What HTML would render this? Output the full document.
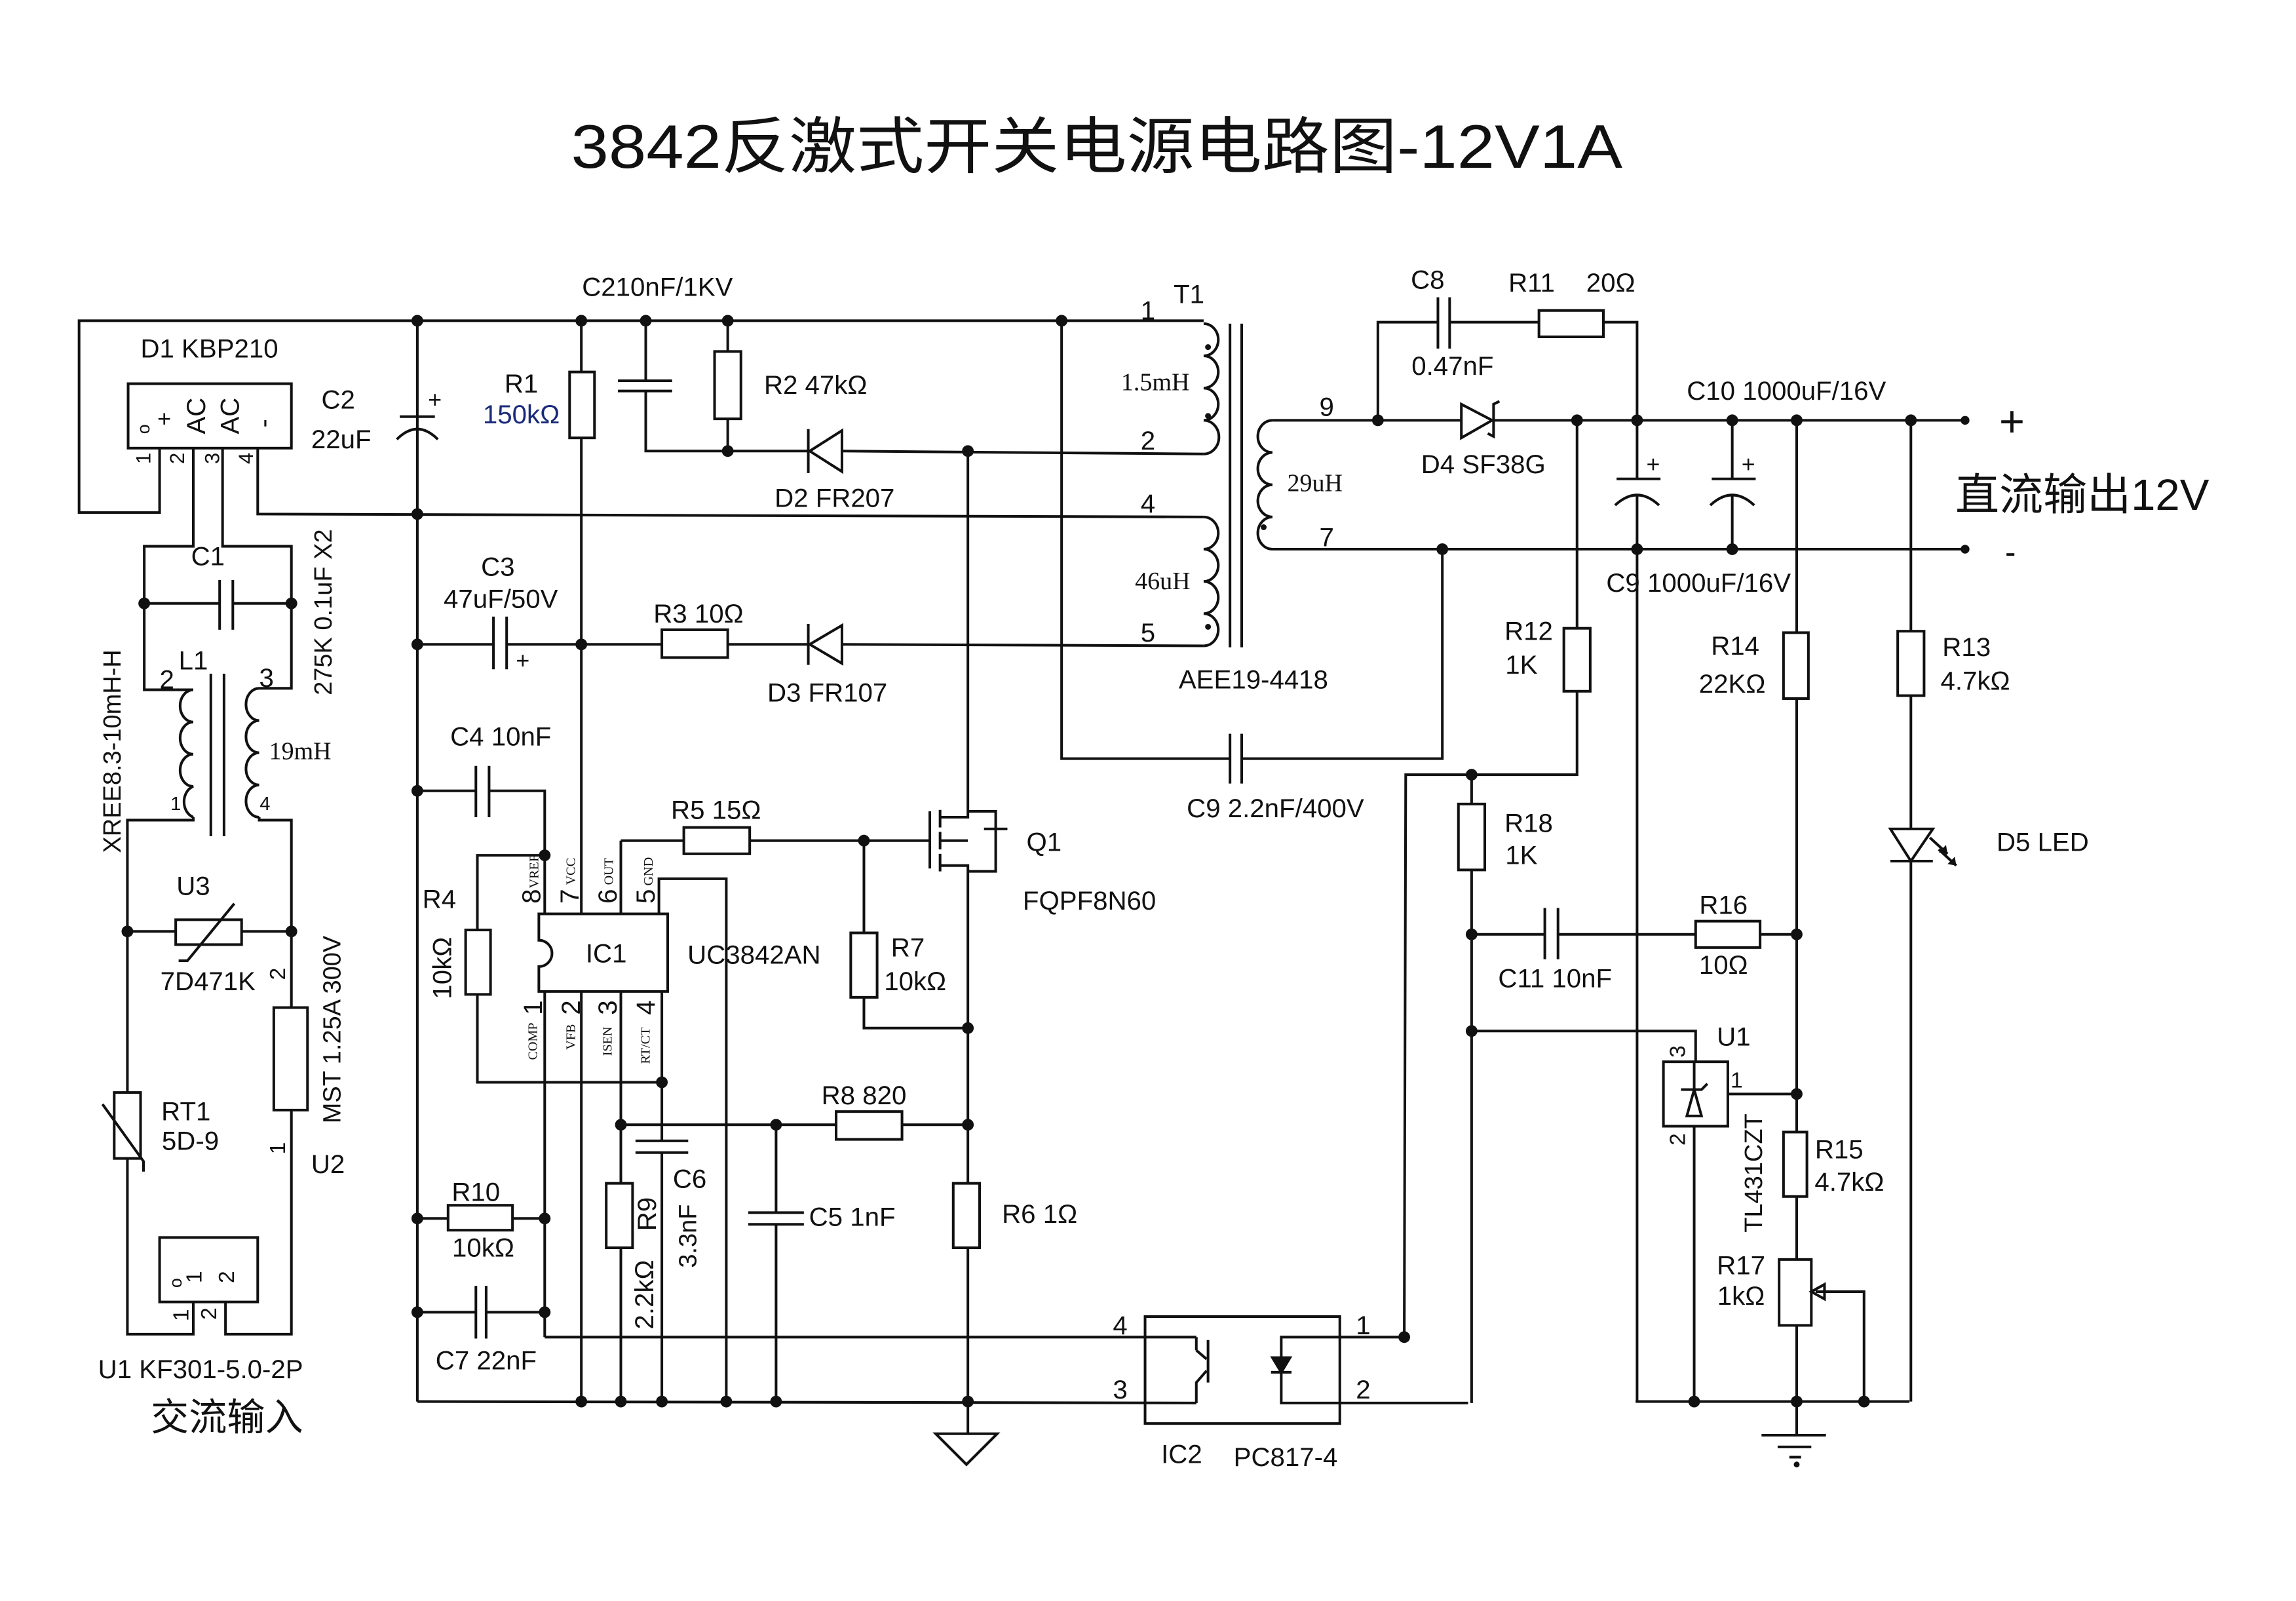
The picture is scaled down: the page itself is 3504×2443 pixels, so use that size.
<!DOCTYPE html>
<html><head><meta charset="utf-8"><style>
html,body{margin:0;padding:0;background:#fff}
svg{display:block}
text{font-family:"Liberation Sans Narrow","Liberation Sans","Noto Sans CJK SC",sans-serif;font-size:18px;fill:#111;text-anchor:middle;dominant-baseline:central}
.s{font-family:"Liberation Serif",serif;font-size:17px}
.t{font-family:"Liberation Serif",serif;font-size:9px}
.w{font-family:"Liberation Sans",sans-serif}
</style></head><body>
<svg width="3504" height="2443" viewBox="0 0 1568 1093.2" preserveAspectRatio="none" xmlns="http://www.w3.org/2000/svg">
<rect width="1568" height="1094" fill="#fff"/>
<text x="749" y="100" style="font-size:42px;font-family:'Liberation Sans','Noto Sans CJK SC',sans-serif" textLength="718" lengthAdjust="spacingAndGlyphs">3842反激式开关电源电路图-12V1A</text>
<g stroke="#111" stroke-width="1.8" fill="none">
<!-- top bus & bridge -->
<polyline points="822,219 54,219 54,350 109,350 109,306"/>
<rect x="87.5" y="262" width="111.5" height="44"/>
<polyline points="176,306 176,351 822,353"/>
<polyline points="132,306 132,373 98.5,373 98.5,471 120,471"/>
<polyline points="152,306 152,373 199,373 199,470 177,470"/>
<line x1="98.5" y1="412" x2="150" y2="412"/><line x1="159" y1="412" x2="199" y2="412"/>
<line x1="150" y1="396" x2="150" y2="430"/><line x1="159" y1="396" x2="159" y2="430"/>
<!-- L1 -->
<path d="M132,471 a9,11 0 0 0 0,22 a9,11 0 0 0 0,22 a9,11 0 0 0 0,22 a9,11 0 0 0 0,21"/>
<line x1="120" y1="471" x2="132" y2="471"/>
<path d="M177,470 a9,11 0 0 0 0,22 a9,11 0 0 0 0,22 a9,11 0 0 0 0,22 a9,11 0 0 0 0,22"/>
<line x1="144" y1="460" x2="144" y2="571"/><line x1="153" y1="460" x2="153" y2="571"/>
<polyline points="132,558 132,560 87,560 87,746"/>
<polyline points="177,558 177,560 199,560 199,688"/>
<!-- U3 -->
<line x1="87" y1="636" x2="120" y2="636"/><line x1="165" y1="636" x2="199" y2="636"/>
<rect x="120" y="628" width="45" height="17"/>
<polyline points="122,656 128,656 160,617"/>
<!-- RT1 / fuse / U1 -->
<rect x="78" y="746" width="18" height="45"/>
<polyline points="70,754 98,793 98,800"/>
<polyline points="87,791 87,911 132,911 132,889"/>
<rect x="187" y="688" width="23" height="70"/>
<polyline points="199,758 199,911 154,911 154,889"/>
<rect x="109" y="845" width="67" height="44"/>
<!-- C2 -->
<line x1="285" y1="219" x2="285" y2="957"/>
<line x1="273" y1="284.5" x2="297" y2="284.5"/>
<path d="M271,300 Q285,286 299,300"/>
<!-- R1 -->
<line x1="397" y1="219" x2="397" y2="254"/>
<rect x="389" y="254" width="17" height="45"/>
<line x1="397" y1="299" x2="397" y2="624"/>
<!-- C210nF -->
<line x1="441" y1="219" x2="441" y2="260"/>
<line x1="422" y1="260" x2="459" y2="260"/><line x1="422" y1="267" x2="459" y2="267"/>
<polyline points="441,267 441,308 552,308"/>
<!-- R2 -->
<line x1="497" y1="219" x2="497" y2="240"/>
<rect x="488" y="240" width="18" height="46"/>
<line x1="497" y1="286" x2="497" y2="308"/>
<!-- D2 -->
<polygon points="575,294 575,322 553,308"/>
<line x1="552" y1="293" x2="552" y2="323"/>
<line x1="575" y1="308" x2="822" y2="310"/>
<!-- C3 line -->
<line x1="285" y1="440" x2="337" y2="440"/>
<line x1="337" y1="421" x2="337" y2="457"/><line x1="346" y1="421" x2="346" y2="457"/>
<line x1="346" y1="440" x2="452" y2="440"/>
<rect x="452" y="430" width="45" height="19"/>
<line x1="497" y1="440" x2="552" y2="440"/>
<polygon points="575,427 575,453 553,440"/>
<line x1="552" y1="426" x2="552" y2="454"/>
<line x1="575" y1="440" x2="822" y2="441"/>
<!-- C4 -->
<line x1="285" y1="540" x2="325" y2="540"/>
<line x1="325" y1="523" x2="325" y2="558"/><line x1="334" y1="523" x2="334" y2="558"/>
<polyline points="334,540 372,540 372,624"/>
<polyline points="372,584 326,584 326,635"/>
<rect x="318" y="635" width="17" height="44"/>
<polyline points="326,679 326,739 452,739"/>
<!-- IC1 -->
<path d="M368,624 H456 V677 H368 V660 A9,9 0 0 0 368,642 Z"/>
<line x1="424" y1="624" x2="424" y2="574"/>
<line x1="424" y1="574" x2="467" y2="574"/>
<rect x="467" y="565" width="45" height="18"/>
<line x1="512" y1="574" x2="635" y2="574"/>
<polyline points="450,624 450,600 496,600 496,957"/>
<line x1="372" y1="677" x2="372" y2="913"/>
<line x1="397" y1="677" x2="397" y2="957"/>
<line x1="424" y1="677" x2="424" y2="808"/>
<line x1="424" y1="852" x2="424" y2="957"/>
<rect x="414" y="808" width="18" height="44"/>
<line x1="452" y1="677" x2="452" y2="779"/>
<line x1="434" y1="779" x2="470" y2="779"/><line x1="434" y1="787" x2="470" y2="787"/>
<line x1="452" y1="787" x2="452" y2="957"/>
<line x1="424" y1="768" x2="571" y2="768"/>
<rect x="571" y="759" width="45" height="19"/>
<line x1="616" y1="768" x2="661" y2="768"/>
<line x1="530" y1="768" x2="530" y2="828"/>
<line x1="511" y1="828" x2="549" y2="828"/><line x1="511" y1="836" x2="549" y2="836"/>
<line x1="530" y1="836" x2="530" y2="957"/>
<!-- R10 C7 -->
<line x1="285" y1="832" x2="306" y2="832"/><rect x="306" y="823" width="44" height="17"/><line x1="350" y1="832" x2="372" y2="832"/>
<line x1="285" y1="896" x2="325" y2="896"/><line x1="332" y1="896" x2="372" y2="896"/>
<line x1="325" y1="878" x2="325" y2="914"/><line x1="332" y1="878" x2="332" y2="914"/>
<!-- R7 / Q1 -->
<line x1="590" y1="574" x2="590" y2="637"/>
<rect x="581" y="637" width="18" height="44"/>
<polyline points="590,681 590,702 661,702"/>
<line x1="635" y1="554" x2="635" y2="593"/>
<line x1="642" y1="553" x2="642" y2="565"/><line x1="642" y1="568" x2="642" y2="580"/><line x1="642" y1="583" x2="642" y2="595"/>
<polyline points="642,558 661,558 661,307"/>
<polyline points="642,591 661,591 661,957"/>
<line x1="642" y1="574" x2="661" y2="574"/>
<polyline points="661,554 680,554 680,595 661,595"/>
<line x1="672" y1="566" x2="688" y2="566"/>
<rect x="651" y="808" width="18" height="44" fill="#fff"/>
<line x1="661" y1="957" x2="661" y2="979"/>
<polygon points="639,979 681,979 660,1000"/>
<!-- ground bus -->
<line x1="285" y1="957" x2="817" y2="958"/>
<line x1="372" y1="913" x2="817" y2="913"/>
<!-- IC2 -->
<rect x="782" y="899" width="133" height="73"/>
<line x1="817" y1="913" x2="817" y2="922"/><line x1="817" y1="922" x2="824" y2="928"/>
<line x1="825" y1="915" x2="825" y2="944"/>
<polyline points="824,936 817,944 817,958"/>
<polyline points="959,913 875,913 875,958 1002.6,958"/>
<polygon points="869,927 881,927 875,937" fill="#111"/>
<line x1="868" y1="937" x2="882" y2="937"/>
<!-- feedback -->
<polyline points="959,913 960,529 1077,529 1077,472"/>
<rect x="1068" y="429" width="18" height="43"/>
<line x1="1077" y1="429" x2="1077" y2="287"/>
<line x1="1005" y1="529" x2="1005" y2="549"/>
<rect x="996" y="549" width="18" height="45"/>
<line x1="1005" y1="594" x2="1005" y2="958"/>
<line x1="1005" y1="638" x2="1055" y2="638"/>
<line x1="1055" y1="620" x2="1055" y2="655"/><line x1="1064" y1="620" x2="1064" y2="655"/>
<line x1="1064" y1="638" x2="1158" y2="638"/>
<rect x="1158" y="629" width="44" height="18"/>
<line x1="1202" y1="638" x2="1227" y2="638"/>
<polyline points="1005,704 1158,704 1158,725"/>
<rect x="1136" y="725" width="44" height="44"/>
<line x1="1157" y1="769" x2="1157" y2="957"/>
<line x1="1157" y1="725" x2="1157" y2="745"/>
<polygon points="1152,762 1162,762 1157,744"/>
<polyline points="1148,744 1152,744 1162,744 1166,740"/>
<line x1="1180" y1="747" x2="1227" y2="747"/>
<line x1="1227" y1="287" x2="1227" y2="432"/>
<rect x="1218" y="432" width="17" height="45"/>
<line x1="1227" y1="477" x2="1227" y2="773"/>
<rect x="1218" y="773" width="16" height="44"/>
<line x1="1227" y1="817" x2="1227" y2="860"/>
<rect x="1215" y="860" width="22" height="45"/>
<line x1="1227" y1="905" x2="1227" y2="980"/>
<polyline points="1240,882 1273,882 1273,957"/>
<polygon points="1237,882 1246,877 1246,887"/>
<line x1="1117" y1="957" x2="1304" y2="957"/>
<line x1="1203" y1="980" x2="1247" y2="980"/>
<line x1="1214" y1="988" x2="1237" y2="988"/>
<line x1="1222" y1="995" x2="1230" y2="995"/>
<!-- transformer -->
<path d="M822,221 a10,11 0 0 1 0,22 a10,11 0 0 1 0,22 a10,11 0 0 1 0,22 a10,11 0 0 1 0,23"/>
<path d="M822,353 a10,11 0 0 1 0,22 a10,11 0 0 1 0,22 a10,11 0 0 1 0,22 a10,11 0 0 1 0,22"/>
<line x1="840" y1="221" x2="840" y2="442"/><line x1="848" y1="221" x2="848" y2="442"/>
<path d="M869,287 a10,11 0 0 0 0,22 a10,11 0 0 0 0,22 a10,11 0 0 0 0,22 a10,11 0 0 0 0,22"/>
<line x1="869" y1="287" x2="998" y2="287"/>
<line x1="869" y1="375" x2="1342" y2="375"/>
<polyline points="725,219 725,518 840,518"/>
<line x1="840" y1="501" x2="840" y2="535"/><line x1="848" y1="501" x2="848" y2="535"/>
<polyline points="848,518 985,518 985,375"/>
<!-- output -->
<polygon points="998,276 998,299 1019,287"/>
<polyline points="1016,296 1020,298 1020,276 1024,274"/>
<line x1="1020" y1="287" x2="1342" y2="287"/>
<polyline points="941,287 941,220 982,220"/>
<line x1="982" y1="203" x2="982" y2="238"/><line x1="990" y1="203" x2="990" y2="238"/>
<line x1="990" y1="220" x2="1051" y2="220"/>
<rect x="1051" y="212" width="44" height="18"/>
<polyline points="1095,220 1118,220 1118,287"/>
<line x1="1118" y1="287" x2="1118" y2="327"/><line x1="1104" y1="327" x2="1134" y2="327"/>
<path d="M1103,345 Q1118,331 1133,345"/><line x1="1118" y1="338" x2="1118" y2="957"/>
<line x1="1183" y1="287" x2="1183" y2="327"/><line x1="1169" y1="327" x2="1199" y2="327"/>
<path d="M1168,345 Q1183,331 1198,345"/><line x1="1183" y1="338" x2="1183" y2="375"/>
<line x1="1305" y1="287" x2="1305" y2="431"/>
<rect x="1296" y="431" width="18" height="44"/>
<line x1="1305" y1="475" x2="1305" y2="957"/>
<polygon points="1291,566 1320,566 1305,588" fill="#fff"/>
<line x1="1291" y1="588" x2="1320" y2="588"/>
<line x1="1318" y1="572" x2="1330" y2="583"/><line x1="1324" y1="580" x2="1336" y2="591"/>
</g>
<g fill="#111">
<polygon points="1330,583 1324,582 1329,577"/><polygon points="1336,591 1330,590 1335,585"/>
<circle cx="285" cy="219" r="4"/><circle cx="397" cy="219" r="4"/><circle cx="441" cy="219" r="4"/><circle cx="497" cy="219" r="4"/><circle cx="725" cy="219" r="4"/>
<circle cx="285" cy="351" r="4"/><circle cx="497" cy="308" r="4"/><circle cx="661" cy="308" r="4"/>
<circle cx="98.5" cy="412" r="4"/><circle cx="199" cy="412" r="4"/>
<circle cx="87" cy="636" r="4"/><circle cx="199" cy="636" r="4"/>
<circle cx="285" cy="440" r="4"/><circle cx="397" cy="440" r="4"/><circle cx="285" cy="540" r="4"/><circle cx="372" cy="584" r="4"/>
<circle cx="590" cy="574" r="4"/><circle cx="661" cy="702" r="4"/><circle cx="452" cy="739" r="4"/>
<circle cx="424" cy="768" r="4"/><circle cx="530" cy="768" r="4"/><circle cx="661" cy="768" r="4"/>
<circle cx="285" cy="832" r="4"/><circle cx="372" cy="832" r="4"/><circle cx="285" cy="896" r="4"/><circle cx="372" cy="896" r="4"/>
<circle cx="397" cy="957" r="4"/><circle cx="424" cy="957" r="4"/><circle cx="452" cy="957" r="4"/><circle cx="496" cy="957" r="4"/><circle cx="530" cy="957" r="4"/><circle cx="661" cy="957" r="4"/>
<circle cx="959" cy="913" r="4"/><circle cx="1005" cy="529" r="4"/><circle cx="1005" cy="638" r="4"/><circle cx="1005" cy="704" r="4"/>
<circle cx="1227" cy="638" r="4"/><circle cx="1227" cy="747" r="4"/>
<circle cx="1157" cy="957" r="4"/><circle cx="1227" cy="957" r="4"/><circle cx="1273" cy="957" r="4"/>
<circle cx="941" cy="287" r="4"/><circle cx="1077" cy="287" r="4"/><circle cx="1118" cy="287" r="4"/><circle cx="1183" cy="287" r="4"/><circle cx="1227" cy="287" r="4"/><circle cx="1305" cy="287" r="4"/><circle cx="1342" cy="287" r="3"/>
<circle cx="985" cy="375" r="4"/><circle cx="1118" cy="375" r="4"/><circle cx="1183" cy="375" r="4"/><circle cx="1342" cy="375" r="3"/>
<circle cx="1227" cy="1000" r="2"/>
<circle cx="825" cy="237" r="2"/><circle cx="825" cy="284" r="2"/><circle cx="825" cy="428" r="2"/><circle cx="863" cy="360" r="2"/>
</g>
<!-- labels -->
<text x="143" y="238">D1 KBP210</text>
<text x="98" y="293" transform="rotate(-90 98 293)" style="font-size:12px">o</text>
<text x="112" y="286" transform="rotate(-90 112 286)" style="font-size:16px">+</text>
<text x="134" y="284" transform="rotate(-90 134 284)">AC</text>
<text x="157" y="284" transform="rotate(-90 157 284)">AC</text>
<text x="180" y="289" transform="rotate(-90 180 289)">-</text>
<text x="98" y="313" transform="rotate(-90 98 313)" style="font-size:14px">1</text>
<text x="121" y="313" transform="rotate(-90 121 313)" style="font-size:14px">2</text>
<text x="145" y="313" transform="rotate(-90 145 313)" style="font-size:14px">3</text>
<text x="168" y="313" transform="rotate(-90 168 313)" style="font-size:14px">4</text>
<text x="231" y="273">C2</text><text x="233" y="300">22uF</text>
<text x="297" y="273" style="font-size:16px">+</text>
<text x="356" y="262">R1</text><text x="356" y="283" style="fill:#1a2a7a">150kΩ</text>
<text x="449" y="196">C210nF/1KV</text>
<text x="557" y="263">R2  47kΩ</text>
<text x="570" y="340">D2  FR207</text>
<text x="142" y="380">C1</text>
<text x="221" y="418" class="w" transform="rotate(-90 221 418)" style="font-size:17px">275K 0.1uF X2</text>
<text x="77" y="513" class="w" transform="rotate(-90 77 513)" style="font-size:17px">XREE8.3-10mH-H</text>
<text x="114" y="464">2</text><text x="132" y="451">L1</text><text x="182" y="463">3</text>
<text x="205" y="513" class="s">19mH</text>
<text x="120" y="549" style="font-size:13px">1</text><text x="181" y="549" style="font-size:13px">4</text>
<text x="340" y="387">C3</text><text x="342" y="409">47uF/50V</text>
<text x="357" y="451" style="font-size:16px">+</text>
<text x="477" y="419">R3 10Ω</text>
<text x="565" y="473">D3  FR107</text>
<text x="342" y="503">C4  10nF</text>
<text x="489" y="553">R5  15Ω</text>
<text x="713" y="575">Q1</text>
<text x="744" y="615">FQPF8N60</text>
<text x="132" y="605">U3</text>
<text x="142" y="670">7D471K</text>
<text x="190" y="665" transform="rotate(-90 190 665)" style="font-size:15px">2</text>
<text x="227" y="703" class="w" transform="rotate(-90 227 703)" style="font-size:17px">MST 1.25A 300V</text>
<text x="190" y="784" transform="rotate(-90 190 784)" style="font-size:15px">1</text>
<text x="224" y="795">U2</text>
<text x="127" y="759">RT1</text><text x="130" y="779">5D-9</text>
<text x="120" y="876" transform="rotate(-90 120 876)" style="font-size:12px">o</text>
<text x="133" y="872" transform="rotate(-90 133 872)" style="font-size:15px">1</text>
<text x="155" y="872" transform="rotate(-90 155 872)" style="font-size:15px">2</text>
<text x="124" y="898" transform="rotate(-90 124 898)" style="font-size:15px">1</text>
<text x="143" y="897" transform="rotate(-90 143 897)" style="font-size:15px">2</text>
<text x="137" y="935">U1 KF301-5.0-2P</text>
<text x="155" y="968" style="font-size:26px">交流输入</text>
<text x="300" y="614">R4</text>
<text x="302" y="661" transform="rotate(-90 302 661)">10kΩ</text>
<text x="363" y="612" transform="rotate(-90 363 612)">8</text>
<text x="389" y="612" transform="rotate(-90 389 612)">7</text>
<text x="415" y="612" transform="rotate(-90 415 612)">6</text>
<text x="441" y="612" transform="rotate(-90 441 612)">5</text>
<text x="365" y="595" class="t" transform="rotate(-90 365 595)">VREF</text>
<text x="390" y="595" class="t" transform="rotate(-90 390 595)">VCC</text>
<text x="416" y="595" class="t" transform="rotate(-90 416 595)">OUT</text>
<text x="443" y="595" class="t" transform="rotate(-90 443 595)">GND</text>
<text x="414" y="651">IC1</text><text x="515" y="652">UC3842AN</text>
<text x="364" y="688" transform="rotate(-90 364 688)">1</text>
<text x="390" y="688" transform="rotate(-90 390 688)">2</text>
<text x="415" y="688" transform="rotate(-90 415 688)">3</text>
<text x="441" y="688" transform="rotate(-90 441 688)">4</text>
<text x="364" y="711" class="t" transform="rotate(-90 364 711)">COMP</text>
<text x="390" y="708" class="t" transform="rotate(-90 390 708)">VFB</text>
<text x="415" y="711" class="t" transform="rotate(-90 415 711)">ISEN</text>
<text x="441" y="714" class="t" transform="rotate(-90 441 714)">RT/CT</text>
<text x="620" y="647">R7</text><text x="625" y="670">10kΩ</text>
<text x="590" y="748">R8 820</text>
<text x="471" y="805">C6</text>
<text x="470" y="844" class="w" transform="rotate(-90 470 844)" style="font-size:17px">3.3nF</text>
<text x="442" y="829" transform="rotate(-90 442 829)">R9</text>
<text x="440" y="884" transform="rotate(-90 440 884)">2.2kΩ</text>
<text x="582" y="831">C5 1nF</text>
<text x="710" y="829">R6  1Ω</text>
<text x="325" y="814">R10</text><text x="330" y="852">10kΩ</text>
<text x="332" y="929">C7 22nF</text>
<text x="765" y="905">4</text><text x="765" y="949">3</text><text x="931" y="905">1</text><text x="931" y="949">2</text>
<text x="807" y="993">IC2</text><text x="878" y="995">PC817-4</text>
<text x="812" y="201">T1</text><text x="784" y="212">1</text><text x="784" y="301">2</text><text x="784" y="344">4</text><text x="784" y="432">5</text>
<text x="789" y="261" class="s">1.5mH</text><text x="794" y="397" class="s">46uH</text><text x="898" y="330" class="s">29uH</text>
<text x="906" y="278">9</text><text x="906" y="367">7</text>
<text x="856" y="464">AEE19-4418</text>
<text x="871" y="552">C9  2.2nF/400V</text>
<text x="975" y="191">C8</text><text x="1046" y="193">R11</text><text x="1100" y="193">20Ω</text>
<text x="992" y="250">0.47nF</text>
<text x="1013" y="317">D4 SF38G</text>
<text x="1220" y="267">C10  1000uF/16V</text>
<text x="1129" y="317" style="font-size:16px">+</text><text x="1194" y="317" style="font-size:16px">+</text>
<text x="1160" y="398">C9  1000uF/16V</text>
<text x="1374" y="288" style="font-size:30px">+</text>
<text x="1373" y="377" style="font-size:22px">-</text>
<text x="1422" y="338" style="font-size:30px;font-family:'Liberation Sans','Noto Sans CJK SC',sans-serif">直流输出12V</text>
<text x="1044" y="431">R12</text><text x="1039" y="454">1K</text>
<text x="1185" y="441">R14</text><text x="1183" y="467">22KΩ</text>
<text x="1343" y="442">R13</text><text x="1349" y="465">4.7kΩ</text>
<text x="1395" y="575">D5  LED</text>
<text x="1044" y="562">R18</text><text x="1039" y="584">1K</text>
<text x="1062" y="668">C11  10nF</text>
<text x="1177" y="618">R16</text><text x="1177" y="659">10Ω</text>
<text x="1184" y="708">U1</text>
<text x="1146" y="718" transform="rotate(-90 1146 718)" style="font-size:15px">3</text>
<text x="1186" y="738" style="font-size:15px">1</text>
<text x="1146" y="778" transform="rotate(-90 1146 778)" style="font-size:15px">2</text>
<text x="1198" y="801" class="w" transform="rotate(-90 1198 801)" style="font-size:17px">TL431CZT</text>
<text x="1256" y="785">R15</text><text x="1263" y="807">4.7kΩ</text>
<text x="1189" y="864">R17</text><text x="1189" y="885">1kΩ</text>
</svg>
</body></html>
